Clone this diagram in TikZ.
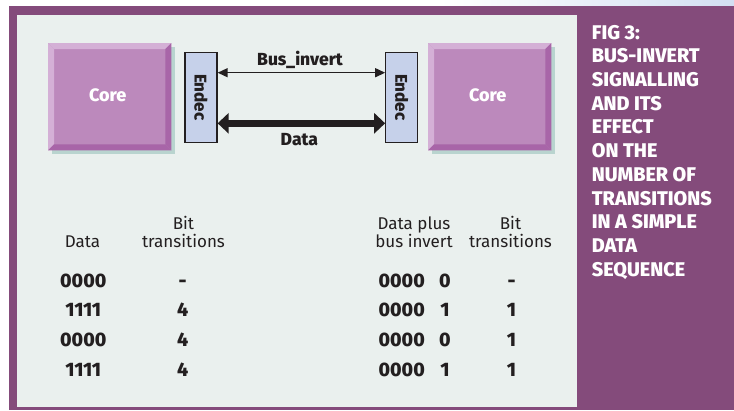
\documentclass[tikz,border=0pt]{standalone}
\usepackage{fontspec}
\setmainfont{Fira Sans}[BoldFont={Fira Sans ExtraBold}]
\usetikzlibrary{arrows.meta,calc,shadows}

\definecolor{framepurple}{HTML}{844B7B}
\definecolor{panelgrey}{HTML}{EAF0EE}
\definecolor{coreface}{HTML}{BC89BC}
\definecolor{corelight}{HTML}{D4B0D6}
\definecolor{coredark}{HTML}{A865A8}
\definecolor{coreshade}{HTML}{B9D4CF}
\definecolor{endecfill}{HTML}{C6D1EA}
\definecolor{inkdark}{HTML}{231F20}
\definecolor{skyhaze}{HTML}{D3DFF2}

\tikzset{
  corebox/.style={minimum width=122.7pt, minimum height=106.7pt, fill=coreface,
    inner sep=0pt,
    drop shadow={shadow xshift=4pt, shadow yshift=-4pt, fill=coreshade, opacity=1}},
  coretext/.style={text=white, inner sep=0pt, font=\fontsize{18}{20}\selectfont\bfseries},
  endecbox/.style={minimum width=32pt, minimum height=90pt, fill=endecfill,
    draw=inkdark, line width=1.3pt, inner sep=0pt},
  endectext/.style={rotate=-90, text=inkdark, inner sep=0pt,
    font=\fontsize{17}{19}\selectfont\bfseries},
  buslabel/.style={text=inkdark, inner sep=0pt, font=\fontsize{17.5}{20}\selectfont\bfseries},
  thinbus/.style={draw=inkdark, line width=1.4pt,
    {Triangle[length=10pt,width=9pt]}-{Triangle[length=10pt,width=9pt]}},
  widebus/.style={draw=inkdark, line width=7pt,
    {Triangle[length=11pt,width=20pt]}-{Triangle[length=11pt,width=20pt]}},
  headcell/.style={text=inkdark, inner sep=0pt, anchor=south, align=center,
    font=\fontsize{17}{18.5}\selectfont},
  valcell/.style={text=inkdark, inner sep=0pt, anchor=base,
    font=\fontsize{19.5}{21}\selectfont\bfseries},
  caption/.style={text=white, inner sep=0pt, anchor=north west, align=left,
    font=\fontsize{19.8}{23.7}\selectfont\bfseries}
}

\begin{document}
\begin{tikzpicture}[x=1pt,y=-1pt]
\useasboundingbox (0,0) rectangle (734,410);
% page background, frame and panel
\fill[white] (0,0) rectangle (734,410);
\shade[left color=white, right color=skyhaze] (440,0) rectangle (734,6);
\fill[framepurple] (9,6) rectangle (734,410);
\fill[panelgrey] (17,15) rectangle (577,407);

% cores with bevelled edges
\node[corebox] (coreL) at (109.7,96.7) {};
\node[corebox] (coreR) at (489.7,96.7) {};
\foreach \c in {coreL,coreR} {
  \fill[corelight] (\c.north west) -- (\c.north east) -- ($(\c.north east)+(-6,6)$)
     -- ($(\c.north west)+(6,6)$) -- cycle;
  \fill[corelight] (\c.north west) -- ($(\c.north west)+(6,6)$)
     -- ($(\c.south west)+(6,-6)$) -- (\c.south west) -- cycle;
  \fill[coredark] (\c.north east) -- (\c.south east) -- ($(\c.south east)+(-6,-6)$)
     -- ($(\c.north east)+(-6,6)$) -- cycle;
  \fill[coredark] (\c.south west) -- (\c.south east) -- ($(\c.south east)+(-6,-6)$)
     -- ($(\c.south west)+(6,-6)$) -- cycle;
  \node[coretext] at ($(\c.center)+(-2,-1)$) {Core};
}

% encoder/decoder blocks
\node[endecbox] (endL) at (201,97.3) {};
\node[endecbox] (endR) at (401.8,97.3) {};
\node[endectext] at (endL.center) {Endec};
\node[endectext] at (endR.center) {Endec};

% links between the blocks
\draw[thinbus] ([yshift=24.6pt]endL.east) -- ([yshift=24.6pt]endR.west);
\draw[widebus] ([yshift=-26pt]endL.east) -- ([yshift=-26pt]endR.west);
\node[buslabel] (lblbus) at (300,60) {Bus\_invert};
\node[buslabel] (lbldata) at (299.3,140) {Data};

% table: plain data
\node[headcell] (hd1) at (82.5,248) {Data};
\node[headcell] (hd2) at (183.5,248) {Bit\\transitions};
\node[valcell] (a1) at (83.3,287) {0000};
\node[valcell] (a2) at (83.3,316.7) {1111};
\node[valcell] (a3) at (83.3,346.4) {0000};
\node[valcell] (a4) at (83.3,376) {1111};
\node[valcell] (b1) at (182.7,287) {-};
\node[valcell] (b2) at (182.7,316.7) {4};
\node[valcell] (b3) at (182.7,346.4) {4};
\node[valcell] (b4) at (182.7,376) {4};

% table: data with bus-invert line
\node[headcell] (hd3) at (414,248) {Data plus\\bus invert};
\node[headcell] (hd4) at (510.5,248) {Bit\\transitions};
\node[valcell] (c1) at (401.7,287) {0000};
\node[valcell] (c2) at (401.7,316.7) {0000};
\node[valcell] (c3) at (401.7,346.4) {0000};
\node[valcell] (c4) at (401.7,376) {0000};
\node[valcell] (d1) at (445,287) {0};
\node[valcell] (d2) at (445,316.7) {1};
\node[valcell] (d3) at (445,346.4) {0};
\node[valcell] (d4) at (445,376) {1};
\node[valcell] (e1) at (511.5,287) {-};
\node[valcell] (e2) at (511.5,316.7) {1};
\node[valcell] (e3) at (511.5,346.4) {1};
\node[valcell] (e4) at (511.5,376) {1};

% figure caption
\node[caption] (cap) at (591.7,24.8) {FIG 3:\\BUS-INVERT\\SIGNALLING\\AND ITS\\EFFECT\\ON THE\\NUMBER OF\\TRANSITIONS\\IN A SIMPLE\\DATA\\SEQUENCE};
\end{tikzpicture}
\end{document}
